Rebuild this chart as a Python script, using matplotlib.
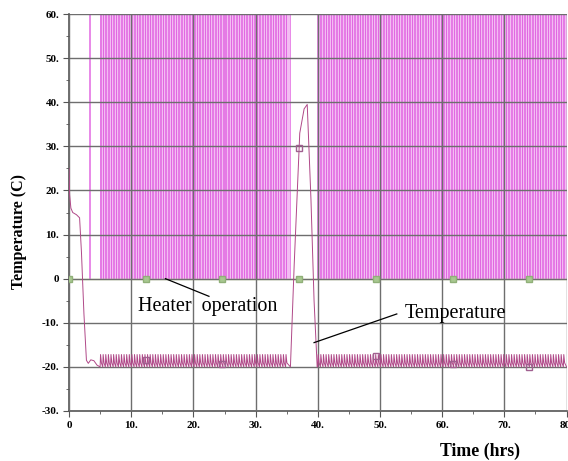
import numpy as np
import matplotlib
matplotlib.use("Agg")
import matplotlib.pyplot as plt
from matplotlib.ticker import MultipleLocator

plt.rcParams['font.family'] = ['Liberation Serif', 'DejaVu Serif']

# start-up transient (hrs, C)
t_start = [0.0, 0.1, 0.3, 0.6, 1.2, 1.7, 2.0, 2.4, 2.8, 3.1, 3.5, 4.0, 4.5, 5.0]
T_start = [25.0, 19.0, 16.0, 15.0, 14.5, 13.8, 6.0, -8.0, -18.5, -19.2, -18.4, -18.6, -19.6, -20.0]

# defrost / warm-up spike
t_spike = [35.6, 36.2, 37.1, 37.8, 38.3, 38.9, 39.4, 39.9]
T_spike = [-20.0, 3.0, 33.0, 38.5, 39.5, 18.0, -5.0, -20.0]

# thermostat-controlled periods, cycle length, ripple band
ctrl_regions = [(5.0, 35.5), (40.0, 80.0)]
cycle_hr = 0.42
T_low, T_high = -20.0, -17.2

# heater: single early pulse, continuous on period
early_pulse = 3.2
heater_on = (35.5, 39.9)

# marker times
mark_t = [0.0, 12.3, 24.6, 37.0, 49.3, 61.7, 74.0]

# build temperature and heater traces, in time order
tt = list(t_start)
TT = list(T_start)
ht = [0.0, early_pulse, early_pulse, early_pulse + 0.1, early_pulse + 0.1]
hv = [0, 0, 100, 100, 0]
for a, b in ctrl_regions:
    if a > 30:
        tt += t_spike
        TT += T_spike
        ht += [heater_on[0], heater_on[0], heater_on[1], heater_on[1]]
        hv += [0, 100, 100, 0]
    for c in np.arange(a, b - cycle_hr, cycle_hr):
        tt += [c, c + 0.07, c + cycle_hr * 0.5]
        TT += [T_low, T_high, T_low + 0.9]
        ht += [c, c, c + 0.1, c + 0.1]
        hv += [0, 100, 100, 0]
tt.append(80.0)
TT.append(T_low)
ht.append(80.0)
hv.append(0)

fig = plt.figure(figsize=(5.68, 4.61), dpi=100)
ax = fig.add_axes([0.1215, 0.1085, 0.876, 0.861])

ax.fill_between([5.0, 35.5], 0, 60, color='#f3bcf3', lw=0, zorder=0)
ax.fill_between([40.0, 80], 0, 60, color='#f3bcf3', lw=0, zorder=0)
ax.plot(ht, hv, color='#e168e1', lw=0.55, zorder=1)
ax.plot([0, 80], [0, 0], color='#c8dc98', lw=1.0, zorder=2)
ax.plot(mark_t, [0] * len(mark_t), ls='none', marker='s', ms=4,
        mfc='#a8c890', mec='#90b078', zorder=3)

ax.plot(tt, TT, color='#b04888', lw=0.7, zorder=4)
mark_T = np.interp(mark_t, tt, TT)
ax.plot(mark_t[1:], mark_T[1:], ls='none', marker='s', ms=4, mfc='none',
        mec='#a06090', zorder=5)

ax.set_xlim(0, 80)
ax.set_ylim(-30, 60)
ax.xaxis.set_minor_locator(MultipleLocator(5))
ax.yaxis.set_minor_locator(MultipleLocator(5))
ax.grid(True, which='major', color='#6e6e6e', lw=1.0, zorder=2.5)
ax.set_axisbelow(False)
for s in ['top', 'right']:
    ax.spines[s].set_visible(False)
for s in ['left', 'bottom']:
    ax.spines[s].set_color('#555555')
    ax.spines[s].set_linewidth(1.2)
ax.tick_params(which='major', length=4, color='#555555', labelsize=8, pad=3)
ax.tick_params(which='minor', length=2.5, color='#555555')

xt = list(range(0, 90, 10))
yt = list(range(-30, 70, 10))
ax.set_xticks(xt)
ax.set_xticklabels(['0' if v == 0 else f'{v}.' for v in xt], fontweight='bold')
ax.set_yticks(yt)
ax.set_yticklabels(['0' if v == 0 else f'{v}.' for v in yt], fontweight='bold')

fig.text(0.033, 0.497, 'Temperature (C)', rotation=90, ha='center', va='center',
         fontsize=11.5, fontweight='bold')
fig.text(0.845, 0.02, 'Time (hrs)', ha='center', va='center',
         fontsize=12.8, fontweight='bold')

ax.text(11.1, -6.4, 'Heater  operation', fontsize=14.5, va='center', ha='left')
ax.plot([15.5, 22.5], [0, -4.0], color='black', lw=0.9, zorder=6)
ax.text(54.0, -8.0, 'Temperature', fontsize=14.5, va='center', ha='left')
ax.plot([39.4, 52.7], [-14.5, -8.0], color='black', lw=0.9, zorder=6)

fig.savefig('out.png', dpi=100)
